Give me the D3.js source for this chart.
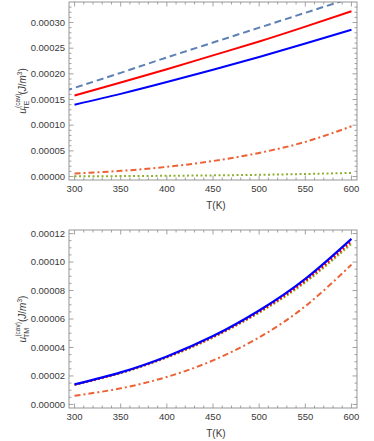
<!DOCTYPE html>
<html>
<head>
<meta charset="utf-8">
<script src="https://cdn.jsdelivr.net/npm/d3@7"></script>
<style>
  body { margin: 0; background: #fff; }
  svg { display: block; font-family: "Liberation Sans", Arial, sans-serif; }
</style>
</head>
<body>
<div id="chart"></div>
<script>
// temperatures (K)
const temps = [300, 350, 400, 450, 500, 550, 600]
// the dashed TE curve starts left of 300 K, under the frame edge
const dashedTemps = [290, 350, 400, 450, 500, 550, 600]

// TE panel (J/m^3)
const teBlue   = [0.000140, 0.000161, 0.000184, 0.000208, 0.000233, 0.000259, 0.000286]
const teRed    = [0.000158, 0.000183, 0.000209, 0.000236, 0.000263, 0.000292, 0.000322]
const teDashed = [0.000167, 0.000202, 0.000232, 0.000261, 0.000290, 0.000319, 0.000348]
const teOrange = [0.0000059, 0.0000110, 0.0000188, 0.0000302, 0.0000460, 0.0000675, 0.0000978]
const teGreen  = [0.0000004, 0.0000008, 0.0000014, 0.0000022, 0.0000033, 0.0000049, 0.0000070]

// TM panel (J/m^3)
const tmBlue   = [0.0000141, 0.0000225, 0.0000337, 0.0000480, 0.0000660, 0.0000882, 0.0001163]
const tmRed    = [0.0000139, 0.0000222, 0.0000333, 0.0000474, 0.0000651, 0.0000868, 0.0001145]
const tmGreen  = [0.0000137, 0.0000219, 0.0000329, 0.0000469, 0.0000644, 0.0000857, 0.0001128]
const tmOrange = [0.0000061, 0.0000113, 0.0000193, 0.0000309, 0.0000471, 0.0000690, 0.0000982]

const xTicks = [300, 350, 400, 450, 500, 550, 600]
const teTicks = [0, 0.00005, 0.0001, 0.00015, 0.0002, 0.00025, 0.0003]
const tmTicks = [0, 0.00002, 0.00004, 0.00006, 0.00008, 0.0001, 0.00012]

const W = 374, H = 441
const svg = d3.select("#chart").append("svg").attr("width", W).attr("height", H)

const frameCol = "#8c8c8c"
const textCol = "#3a3a3a"

function panel(id, top, bottom, yDomain, yMajor, yMinorStep, series, sub) {
  const left = 69, right = 357
  const x = d3.scaleLinear().domain([294, 606]).range([left, right])
  const y = d3.scaleLinear().domain(yDomain).range([bottom, top])
  const g = svg.append("g")

  g.append("clipPath").attr("id", id).append("rect")
    .attr("x", left).attr("y", top).attr("width", right - left).attr("height", bottom - top)

  // minor + major ticks on all four sides, pointing in
  const xMinor = d3.range(300, 601, 10).filter(v => v % 50 !== 0)
  const yMinor = d3.range(0, yDomain[1], yMinorStep).filter(v => !yMajor.some(m => Math.abs(m - v) < 1e-9))
  const tk = g.append("g").attr("stroke", frameCol).attr("stroke-width", 0.8)
  xMinor.forEach(v => {
    tk.append("line").attr("x1", x(v)).attr("x2", x(v)).attr("y1", bottom).attr("y2", bottom - 2.5)
    tk.append("line").attr("x1", x(v)).attr("x2", x(v)).attr("y1", top).attr("y2", top + 2.5)
  })
  xTicks.forEach(v => {
    tk.append("line").attr("x1", x(v)).attr("x2", x(v)).attr("y1", bottom).attr("y2", bottom - 4.5)
    tk.append("line").attr("x1", x(v)).attr("x2", x(v)).attr("y1", top).attr("y2", top + 4.5)
  })
  yMinor.forEach(v => {
    tk.append("line").attr("x1", left).attr("x2", left + 2.5).attr("y1", y(v)).attr("y2", y(v))
    tk.append("line").attr("x1", right).attr("x2", right - 2.5).attr("y1", y(v)).attr("y2", y(v))
  })
  yMajor.forEach(v => {
    tk.append("line").attr("x1", left).attr("x2", left + 4.5).attr("y1", y(v)).attr("y2", y(v))
    tk.append("line").attr("x1", right).attr("x2", right - 4.5).attr("y1", y(v)).attr("y2", y(v))
  })

  // curves
  const lines = g.append("g").attr("clip-path", `url(#${id})`)
  series.forEach(s => {
    const ts = s.temps || temps
    const line = d3.line().x((d, i) => x(ts[i])).y(d => y(d)).curve(d3.curveNatural)
    lines.append("path").attr("d", line(s.values))
      .attr("fill", "none").attr("stroke", s.color).attr("stroke-width", s.width)
      .attr("stroke-dasharray", s.dash || null)
  })

  // frame
  g.append("rect").attr("x", left).attr("y", top).attr("width", right - left).attr("height", bottom - top)
    .attr("fill", "none").attr("stroke", frameCol).attr("stroke-width", 0.9)

  // tick labels
  const fmt = d3.format(".5f")
  g.selectAll(".yl").data(yMajor).enter().append("text")
    .attr("x", left - 4).attr("y", d => y(d) + 3.3)
    .attr("text-anchor", "end").attr("font-size", 9.5).attr("fill", textCol)
    .text(d => fmt(d))
  g.selectAll(".xl").data(xTicks).enter().append("text")
    .attr("x", d => x(d)).attr("y", bottom + 11.5)
    .attr("text-anchor", "middle").attr("font-size", 9.5).attr("fill", textCol)
    .text(d => d)

  g.append("text").attr("x", 216).attr("y", bottom + 29)
    .attr("text-anchor", "middle").attr("font-size", 10).attr("fill", textCol)
    .text("T(K)")

  // y axis title
  const cy = (top + bottom) / 2
  const t = g.append("text").attr("transform", `translate(25.5,${cy}) rotate(-90)`)
    .attr("text-anchor", "middle").attr("font-size", 10).attr("fill", textCol)
  t.append("tspan").attr("font-style", "italic").text("u")
  t.append("tspan").attr("font-size", 6.5).attr("dy", -5.5).attr("dx", 0.3).text("(cav)")
  t.append("tspan").attr("font-size", 7).attr("dy", 8.5).attr("dx", -16).text(sub)
  t.append("tspan").attr("dy", -3).attr("dx", 6).text("(")
  t.append("tspan").attr("font-style", "italic").text("J")
  t.append("tspan").text("/")
  t.append("tspan").attr("font-style", "italic").text("m")
  t.append("tspan").attr("font-size", 6.5).attr("dy", -4).text("3")
  t.append("tspan").attr("dy", 4).text(")")
}

panel("clipTE", 2, 180, [-0.0000068, 0.00034], teTicks, 0.00001, [
  { values: teGreen, color: "#8FB032", width: 2, dash: "2,2.5" },
  { values: teOrange, color: "#EB6235", width: 2, dash: "6,3,2,3" },
  { values: teDashed, temps: dashedTemps, color: "#5E81B5", width: 2, dash: "7,4" },
  { values: teRed, color: "#ff0000", width: 2 },
  { values: teBlue, color: "#0000ff", width: 2 }
], "TE")

panel("clipTM", 230, 408, [-0.0000025, 0.0001225], tmTicks, 0.000005, [
  { values: tmOrange, color: "#EB6235", width: 2, dash: "6,3,2,3" },
  { values: tmGreen, color: "#8FB032", width: 2, dash: "2,2" },
  { values: tmRed, color: "#ff0000", width: 2, dash: "2,2" },
  { values: tmBlue, color: "#0000ff", width: 2.2 }
], "TM")
</script>
</body>
</html>
